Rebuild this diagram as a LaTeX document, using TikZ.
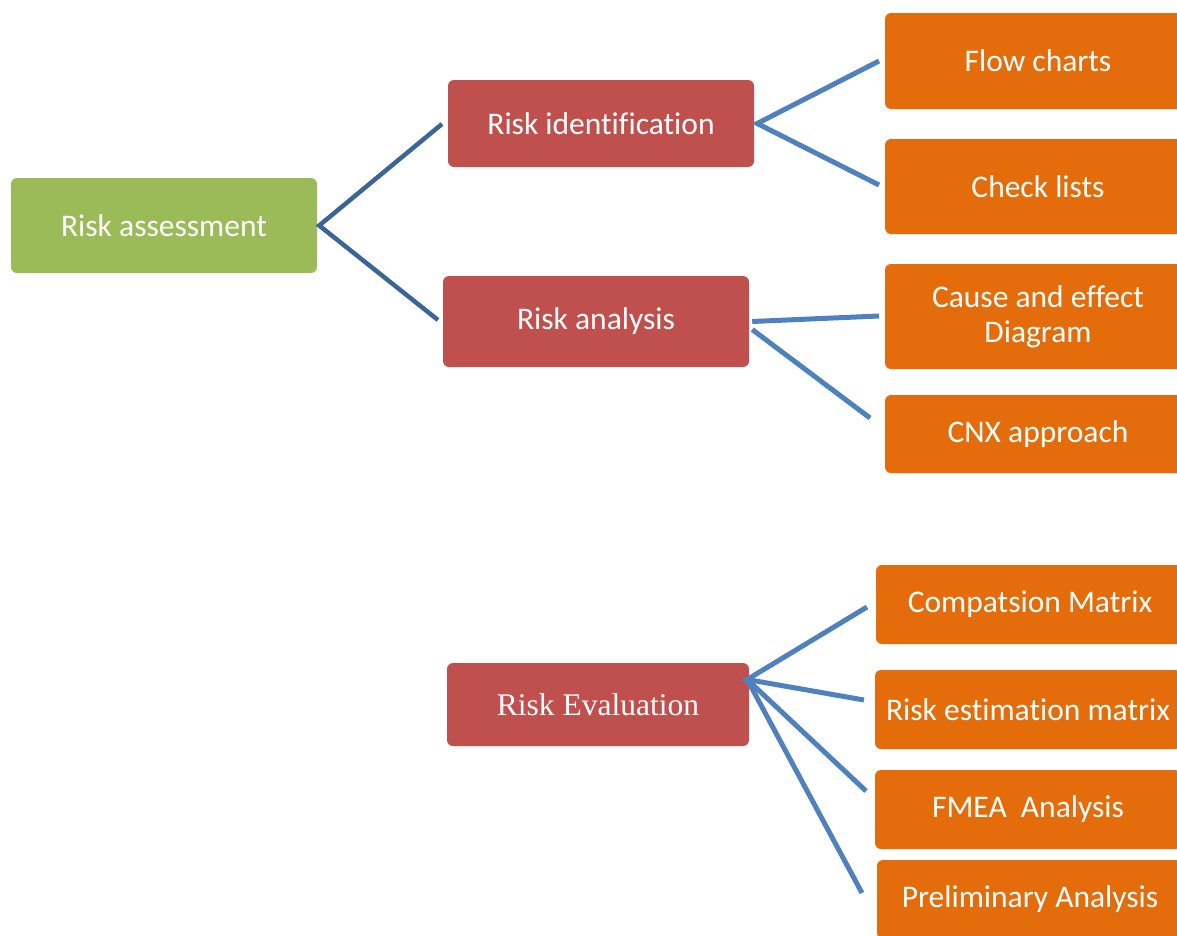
\documentclass[tikz,border=0pt]{standalone}
\usepackage{fontspec}
\setmainfont[Ligatures=NoCommon]{Carlito}
\newfontfamily\serifrm{Liberation Serif}
\usetikzlibrary{calc}
\definecolor{boxgreen}{HTML}{9BBB59}
\definecolor{boxred}{HTML}{C0504D}
\definecolor{boxorange}{HTML}{E46C0A}
\definecolor{linkblue}{HTML}{4F81BD}
\definecolor{linkdark}{HTML}{3C6597}
\tikzset{
  box/.style={rectangle, rounded corners=6pt, text=white, align=center,
    inner sep=0pt, minimum width=306pt, font=\fontsize{31.5}{35}\selectfont},
  greenbox/.style={box, fill=boxgreen},
  redbox/.style={box, fill=boxred},
  orangebox/.style={box, fill=boxorange},
  link/.style={draw=linkblue, line width=5pt},
  darklink/.style={draw=linkdark, line width=4.5pt},
}
\begin{document}
\begin{tikzpicture}[x=1pt,y=-1pt]
\useasboundingbox (0,0) rectangle (1177,935);
\clip (0,0) rectangle (1177,935);
% level 1
\node[greenbox, minimum height=95pt] (ra) at (164,225.5) {Risk assessment};
% level 2
\node[redbox, minimum height=87pt] (rid) at (601,123.5) {Risk identification};
\node[redbox, minimum height=91pt] (ran) at (596,321.5) {\raisebox{-2pt}{Risk analysis}};
\node[redbox, minimum height=83pt, minimum width=302pt, font=\serifrm\fontsize{31.5}{35}\selectfont] (rev) at (598,704.5) {Risk Evaluation};
% level 3
\node[orangebox, minimum height=96pt] (fc) at (1038,61) {Flow charts};
\node[orangebox, minimum height=95pt] (cl) at (1038,186.5) {Check lists};
\node[orangebox, minimum height=105pt] (ce) at (1038,316.5) {Cause and effect\\Diagram};
\node[orangebox, minimum height=78pt] (cnx) at (1038,434) {\raisebox{-2pt}{CNX approach}};
\node[orangebox, minimum height=79pt, minimum width=308pt] (cm) at (1030,604.5) {\raisebox{-2pt}{Compatsion Matrix}};
\node[orangebox, minimum height=79pt] (rem) at (1028,709.5) {Risk estimation matrix};
\node[orangebox, minimum height=79pt] (fmea) at (1028,809.5) {\raisebox{-2pt}{FMEA\ \ Analysis}};
\node[orangebox, minimum height=79pt] (pa) at (1030,899.5) {\raisebox{-2pt}{Preliminary\ Analysis}};
% connector ends
\coordinate (e1) at (442,124);
\coordinate (e2) at (438,320);
\coordinate (e3) at (879,61);
\coordinate (e4) at (879,185);
\coordinate (e5) at (879,316);
\coordinate (e6) at (870,418);
\coordinate (e7) at (867,607);
\coordinate (e8) at (864,700);
\coordinate (e9) at (866,791);
\coordinate (e10) at (862,893);
\coordinate (s0) at ($(ra.east)+(2,0)$);
\coordinate (s1) at ($(rid.east)+(3,0)$);
\coordinate (s2) at ($(ran.east)+(3,0)$);
\coordinate (s3) at ($(ran.east)+(3,8)$);
\coordinate (s4) at ($(rev.east)+(-2,-25)$);
% connectors
\draw[darklink] (e1) -- (s0) -- (e2);
\draw[link] (e3) -- (s1) -- (e4);
\draw[link] (s2) -- (e5);
\draw[link] (s3) -- (e6);
\draw[link] (e7) -- (s4) -- (e8);
\draw[link] (s4) -- (e9);
\draw[link] (s4) -- (e10);
\end{tikzpicture}
\end{document}
